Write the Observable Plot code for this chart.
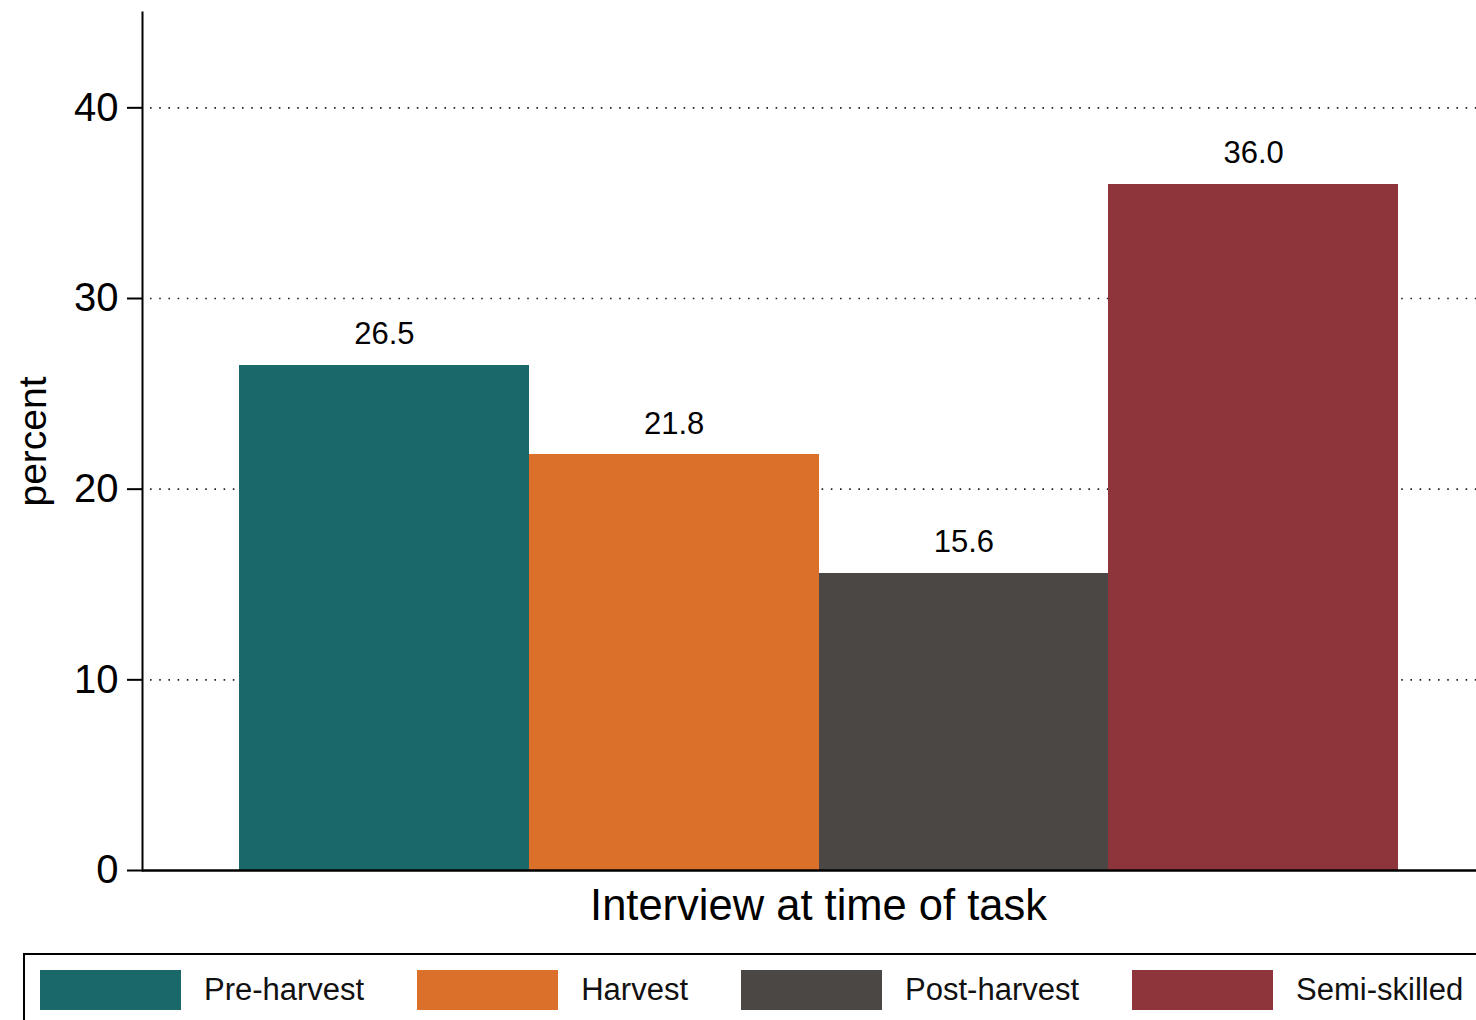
<!DOCTYPE html>
<html>
<head>
<meta charset="utf-8">
<script src="https://cdn.jsdelivr.net/npm/d3@7"></script>
<script src="https://cdn.jsdelivr.net/npm/@observablehq/plot@0.6"></script>
<style>
  html, body { margin: 0; padding: 0; background: #fff; overflow: hidden; }
  body { width: 1476px; height: 1020px; font-family: "Liberation Sans", Arial, sans-serif; }
  #chart svg { display: block; }
  #legend {
    position: absolute; left: 23px; top: 953px; width: 1500px; height: 120px;
    border: 2px solid #000; box-sizing: border-box;
    display: flex; align-items: flex-start; padding: 15px 0 0 15px; gap: 53px;
  }
  .item { display: flex; align-items: center; gap: 23px; }
  .sw { width: 141px; height: 40px; }
  .lab { font-size: 31px; color: #111; line-height: 40px; }
</style>
</head>
<body>
<div id="chart"></div>
<div id="legend"></div>
<script>
const categories = ["Pre-harvest", "Harvest", "Post-harvest", "Semi-skilled"];
const values = [26.5, 21.8, 15.6, 36.0];
const colors = ["#1b686b", "#da702a", "#4b4744", "#8e353c"];
const yTicks = [0, 10, 20, 30, 40];
const xTitle = "Interview at time of task";
const yTitle = "percent";

const data = categories.map((c, i) => ({category: c, value: values[i]}));

const chart = Plot.plot({
  width: 1476,
  height: 945,
  marginTop: 12,
  marginBottom: 75,
  marginLeft: 142,
  marginRight: 0,
  style: {fontFamily: "'Liberation Sans', Arial, sans-serif", color: "#000", background: "#fff"},
  x: {type: "band", domain: categories, range: [239, 1398], padding: 0, round: false, axis: null},
  y: {domain: [0, 45], axis: null},
  color: {domain: categories, range: colors},
  marks: [
    Plot.gridY(yTicks.filter(d => d > 0), {stroke: "#222", strokeOpacity: 1, strokeWidth: 1.6, strokeDasharray: "1.6,7.6", strokeDashoffset: -8}),
    Plot.barY(data, {x: "category", y: "value", fill: "category", inset: 0, shapeRendering: "crispEdges"}),
    Plot.text(data, {x: "category", y: "value", text: d => d.value.toFixed(1), dy: -21, lineAnchor: "bottom", fontSize: 31, fill: "#000"}),
    Plot.axisY({ticks: yTicks, tickSize: 15, tickPadding: 9, fontSize: 40, strokeWidth: 2, label: null, tickFormat: d => String(d)}),
    Plot.text([yTitle], {frameAnchor: "left", dx: -124, rotate: -90, lineAnchor: "top", textAnchor: "middle", fontSize: 39, fill: "#000"}),
    Plot.text([xTitle], {frameAnchor: "bottom", dx: 9, dy: 49, lineAnchor: "bottom", fontSize: 43.5, fill: "#000"}),
    Plot.frame({anchor: "left", stroke: "#000", strokeWidth: 2}),
    Plot.ruleY([0], {stroke: "#000", strokeWidth: 2.5})
  ]
});
document.getElementById("chart").append(chart);

const legend = document.getElementById("legend");
categories.forEach((c, i) => {
  const item = document.createElement("div");
  item.className = "item";
  const sw = document.createElement("div");
  sw.className = "sw";
  sw.style.background = colors[i];
  const lab = document.createElement("span");
  lab.className = "lab";
  lab.textContent = c;
  item.append(sw, lab);
  legend.append(item);
});
</script>
</body>
</html>
